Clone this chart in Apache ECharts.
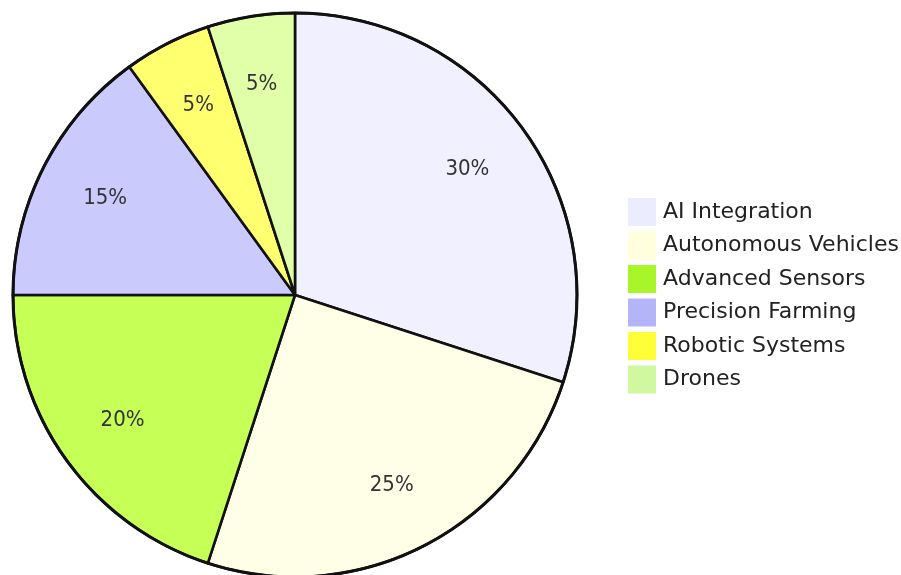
<!DOCTYPE html>
<html><head><meta charset="utf-8">
<script src="https://cdn.jsdelivr.net/npm/echarts@6/dist/echarts.min.js"></script>
<style>html,body{margin:0;padding:0;background:#fff}#c{width:901px;height:575px}</style>
</head><body><div id="c"></div>
<script>
const categories = ["AI Integration","Autonomous Vehicles","Advanced Sensors","Precision Farming","Robotic Systems","Drones"];
const values = [30,25,20,15,5,5];
const legendColors = ["#ECECFF","#ffffde","#a8f52a","#b4b4f8","#ffff38","#d0f8a0"];
const sliceColors = ["#f0f0ff","#fffee6","#c6ff55","#cacafd","#ffff70","#e0ffa8"];

const total = values.reduce((a,b)=>a+b,0);
const chart = echarts.init(document.getElementById('c'));
const R = 282;
const cx = 295, cy = 295;
chart.setOption({
  animation:false,
  legend:{
    orient:'vertical', left:623, top:193,
    itemWidth:28, itemHeight:28, itemGap:5.5, icon:'rect',
    textStyle:{fontFamily:'DejaVu Sans', fontSize:22, color:'#222', padding:[0,0,0,2]},
    data: categories.map((n,i)=>({name:n, itemStyle:{color:legendColors[i], borderWidth:0}}))
  },
  series:[
    {type:'pie', center:[cx,cy], radius:[0,R], startAngle:90, clockwise:true,
     label:{show:false}, labelLine:{show:false}, silent:true,
     itemStyle:{borderColor:'#111', borderWidth:2.6},
     data: categories.map((n,i)=>({name:n, value:values[i], itemStyle:{color:sliceColors[i]}}))},
    {type:'pie', center:[cx,cy], radius:[R*0.49,R], startAngle:90, clockwise:true,
     silent:true, legendHoverLink:false,
     label:{show:true, position:'inside', fontFamily:'DejaVu Sans Condensed', fontSize:22, color:'#333',
       formatter:p=>Math.round(p.value/total*100)+'%'},
     labelLine:{show:false},
     itemStyle:{color:'rgba(0,0,0,0)', borderWidth:0},
     data: categories.map((n,i)=>({name:n+' ', value:values[i]}))},
    {type:'pie', center:[cx,cy], radius:[R-1.5,R+1.5], silent:true, label:{show:false},
     itemStyle:{color:'#111', borderWidth:0}, data:[{name:'  outline', value:1}]}
  ]
});
</script></body></html>
